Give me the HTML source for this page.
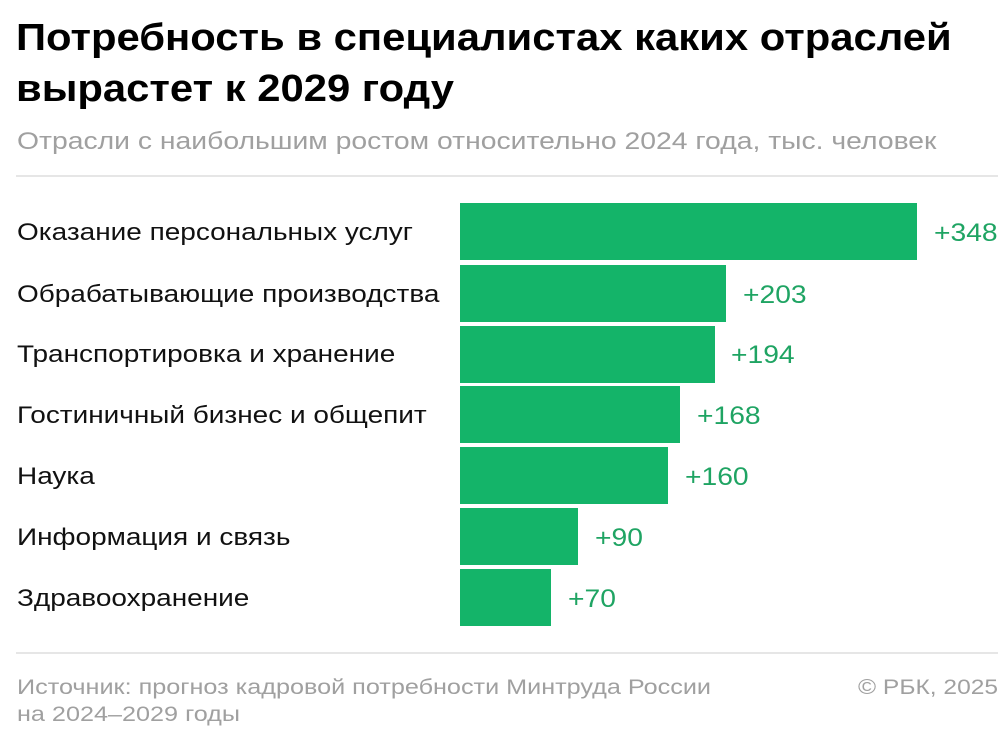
<!DOCTYPE html>
<html><head><meta charset="utf-8"><style>
body{margin:0;width:1000px;height:745px;background:#fff;position:relative;overflow:hidden;font-family:"Liberation Sans",sans-serif}
.a{position:absolute;white-space:nowrap;transform-origin:0 0}
.t{left:16px;font-size:38px;font-weight:bold;color:#000;transform:scaleX(1.1)}
.l{left:17px;font-size:24px;color:#111;transform:scaleX(1.165)}
.b{position:absolute;left:460px;height:57px;background:#14b469}
.v{font-size:25px;color:#1fa463;transform:scaleX(1.13)}
.g{color:#a0a0a0}
.f{font-size:21px;transform:scaleX(1.2)}
.hr{position:absolute;left:16px;width:982px;height:2px;background:#e6e6e6}
</style></head><body>
<div class="a t" style="top:17px">Потребность в специалистах каких отраслей</div>
<div class="a t" style="top:68px">вырастет к 2029 году</div>
<div class="a g" style="left:17px;top:128px;font-size:24px;transform:scaleX(1.18)">Отрасли с наибольшим ростом относительно 2024 года, тыс. человек</div>
<div class="hr" style="top:175px"></div>

<div class="a l" style="top:219px">Оказание персональных услуг</div>
<div class="b" style="top:203px;width:457px"></div>
<div class="a v" style="left:934px;top:219px">+348</div>

<div class="a l" style="top:281px">Обрабатывающие производства</div>
<div class="b" style="top:265px;width:266px"></div>
<div class="a v" style="left:743px;top:281px">+203</div>

<div class="a l" style="top:341px">Транспортировка и хранение</div>
<div class="b" style="top:326px;width:255px"></div>
<div class="a v" style="left:731px;top:341px">+194</div>

<div class="a l" style="top:402px">Гостиничный бизнес и общепит</div>
<div class="b" style="top:386px;width:220px"></div>
<div class="a v" style="left:697px;top:402px">+168</div>

<div class="a l" style="top:463px">Наука</div>
<div class="b" style="top:447px;width:208px"></div>
<div class="a v" style="left:685px;top:463px">+160</div>

<div class="a l" style="top:524px">Информация и связь</div>
<div class="b" style="top:508px;width:118px"></div>
<div class="a v" style="left:595px;top:524px">+90</div>

<div class="a l" style="top:585px">Здравоохранение</div>
<div class="b" style="top:569px;width:91px"></div>
<div class="a v" style="left:568px;top:585px">+70</div>

<div class="hr" style="top:652px"></div>
<div class="a g f" style="left:17px;top:676px">Источник: прогноз кадровой потребности Минтруда России</div>
<div class="a g f" style="left:17px;top:703px">на 2024–2029 годы</div>
<div class="a g f" style="left:858px;top:676px;transform:scaleX(1.17)">© РБК, 2025</div>
</body></html>
